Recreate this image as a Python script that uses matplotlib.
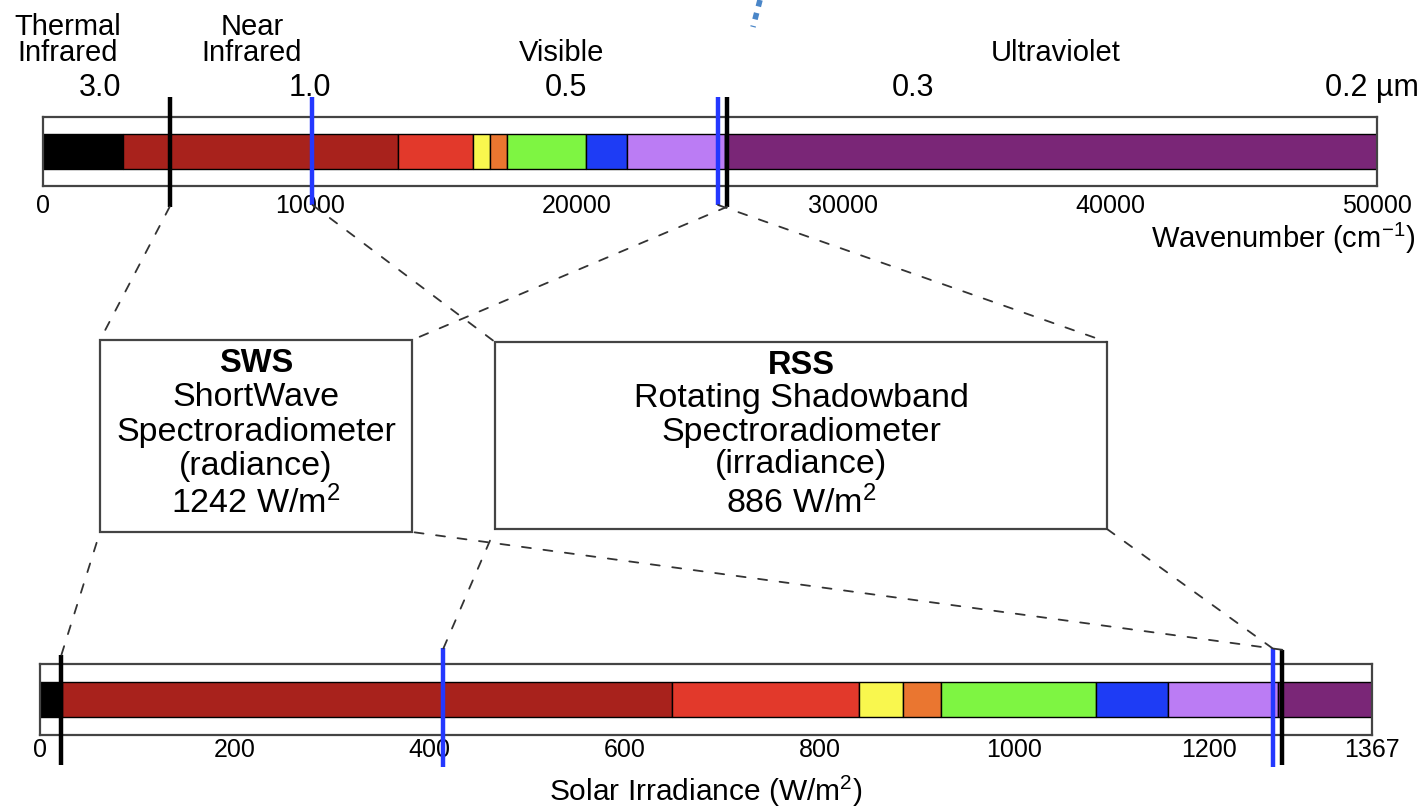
import matplotlib
matplotlib.use('Agg')
import matplotlib.pyplot as plt
import numpy as np
from matplotlib.patches import Rectangle, ConnectionPatch

plt.rcParams['font.family'] = ['Liberation Sans', 'DejaVu Sans']
plt.rcParams['mathtext.fontset'] = 'custom'
plt.rcParams['mathtext.rm'] = 'Liberation Sans'
plt.rcParams['mathtext.it'] = 'Liberation Sans:italic'
plt.rcParams['mathtext.bf'] = 'Liberation Sans:bold'

# ---------------- data ----------------
band_colors = ['#000000', '#a8221c', '#e2392b', '#f9f74e', '#ea7630',
               '#7ef542', '#1e3cf5', '#bb7cf4', '#7a2677']
wn_edges = [0, 3000, 13300, 16100, 16750, 17400, 20350, 21900, 25550, 50000]
irr_edges = [0, 23, 649, 841, 886, 925, 1084, 1158, 1271, 1367]
wn_ticks = [0, 10000, 20000, 30000, 40000, 50000]
irr_ticks = [0, 200, 400, 600, 800, 1000, 1200, 1367]
wl_labels = ['3.0', '1.0', '0.5', '0.3', '0.2 µm']
wl_pos = [2150, 10000, 19600, 32600, 49800]
region_labels = ['Thermal\nInfrared', 'Near\nInfrared', 'Visible', 'Ultraviolet']
region_pos = [940, 7830, 19450, 37970]
sws_wn = [4750, 25650]      # black markers (wavenumber)
rss_wn = [10100, 25300]     # blue markers (wavenumber)
sws_irr = [22, 1275]        # black markers (irradiance)
rss_irr = [414, 1265]       # blue markers (irradiance)
sws_lines = ['ShortWave', 'Spectroradiometer', '(radiance)', '1242 W/m$^2$']
rss_lines = ['Rotating Shadowband', 'Spectroradiometer', '(irradiance)', '886 W/m$^2$']

W, H = 1418, 807
fig = plt.figure(figsize=(W / 100, H / 100), dpi=100)

BLUE = '#2438ff'
EDGE = '#444444'

def px_axes(x0, x1, y0, y1):
    return fig.add_axes([x0 / W, 1 - y1 / H, (x1 - x0) / W, (y1 - y0) / H])

# ---------------- top bar ----------------
ax_top = px_axes(43, 1377, 117, 186)
ax_top.set_xlim(0, 50000)
ax_top.set_ylim(0, 1)
ax_top.barh(0.5, np.diff(wn_edges), left=wn_edges[:-1], height=0.5,
            color=band_colors, edgecolor='black', linewidth=1)
for s in ax_top.spines.values():
    s.set_color(EDGE)
    s.set_linewidth(1.6)
ax_top.set_yticks([])
ax_top.set_xticks(wn_ticks)
ax_top.set_xticklabels([str(t) for t in wn_ticks])
ax_top.tick_params(axis='x', length=0, pad=6, labelsize=18)
for x in rss_wn:
    ax_top.plot([x, x], [-0.275, 1.29], color=BLUE, lw=3.2, clip_on=False,
                solid_capstyle='butt', zorder=5)
for x in sws_wn:
    ax_top.plot([x, x], [-0.3, 1.29], color='black', lw=3.2, clip_on=False,
                solid_capstyle='butt', zorder=5)
for lab, x in zip(wl_labels, wl_pos):
    ax_top.text(x, 1.42, lab, ha='center', va='center', fontsize=22)
for lab, x in zip(region_labels, region_pos):
    ax_top.text(x, 1.72, lab, ha='center', va='bottom', fontsize=21,
                linespacing=0.92)
fig.text(1415 / W, 1 - 238 / H, 'Wavenumber (cm$^{-1}$)', ha='right',
         va='center', fontsize=21)

# ---------------- bottom bar ----------------
ax_bot = px_axes(40, 1372, 664, 735)
ax_bot.set_xlim(0, 1367)
ax_bot.set_ylim(0, 1)
ax_bot.barh(0.5, np.diff(irr_edges), left=irr_edges[:-1], height=0.5,
            color=band_colors, edgecolor='black', linewidth=1)
for s in ax_bot.spines.values():
    s.set_color(EDGE)
    s.set_linewidth(1.6)
ax_bot.set_yticks([])
ax_bot.set_xticks(irr_ticks)
ax_bot.set_xticklabels([str(t) for t in irr_ticks])
ax_bot.tick_params(axis='x', length=0, pad=2, labelsize=18)
ax_bot.set_xlabel('Solar Irradiance (W/m$^2$)', fontsize=21.5, labelpad=9)
for x in rss_irr:
    ax_bot.plot([x, x], [-0.45, 1.22], color=BLUE, lw=3.2, clip_on=False,
                solid_capstyle='butt', zorder=5)
for x, top in zip(sws_irr, [1.13, 1.2]):
    ax_bot.plot([x, x], [-0.42, top], color='black', lw=3.2, clip_on=False,
                solid_capstyle='butt', zorder=5)

# ---------------- overlay: boxes and connectors ----------------
ax_ov = fig.add_axes([0, 0, 1, 1], zorder=-1)
ax_ov.set_xlim(0, W)
ax_ov.set_ylim(H, 0)
ax_ov.axis('off')

sws_box = (100, 340, 412, 532)
rss_box = (495, 342, 1107, 529)
for (x0, y0, x1, y1) in (sws_box, rss_box):
    ax_ov.add_patch(Rectangle((x0, y0), x1 - x0, y1 - y0, fill=False,
                              edgecolor=EDGE, lw=1.6))

sws_cx = (sws_box[0] + sws_box[2]) / 2
rss_cx = (rss_box[0] + rss_box[2]) / 2
ax_ov.text(sws_cx, 363, 'SWS', ha='center', va='center', fontsize=23.5,
           fontweight='bold')
for txt, y in zip(sws_lines, [397, 432, 466, 503]):
    ax_ov.text(sws_cx, y, txt, ha='center', va='center', fontsize=24.5)
ax_ov.text(rss_cx, 366, 'RSS', ha='center', va='center', fontsize=23.5,
           fontweight='bold')
for txt, y in zip(rss_lines, [398, 432, 465, 503]):
    ax_ov.text(rss_cx, y, txt, ha='center', va='center', fontsize=24.5)

dash = (0, (5, 7))
def connect(xyA, axA, xyB):
    cp = ConnectionPatch(xyA=xyA, coordsA=axA.transData, xyB=xyB,
                         coordsB=ax_ov.transData, linestyle=dash,
                         color='#333333', lw=1.3)
    fig.add_artist(cp)

# top bar -> boxes
connect((sws_wn[0], -0.3), ax_top, (sws_box[0], sws_box[1]))
connect((sws_wn[1], -0.3), ax_top, (sws_box[2], sws_box[1]))
connect((rss_wn[0], -0.275), ax_top, (rss_box[0], rss_box[1]))
connect((rss_wn[1], -0.275), ax_top, (rss_box[2], rss_box[1]))
# boxes -> bottom bar
connect((sws_irr[0], 1.13), ax_bot, (sws_box[0], sws_box[3]))
connect((sws_irr[1], 1.2), ax_bot, (sws_box[2], sws_box[3]))
connect((rss_irr[0], 1.22), ax_bot, (rss_box[0], rss_box[3]))
connect((rss_irr[1], 1.22), ax_bot, (rss_box[2], rss_box[3]))

# small dotted pointer fragment at the top edge
ax_ov.plot([760, 753], [0, 27], color='#4a86c8', lw=4, linestyle=(0, (1.2, 1.2)))

fig.savefig('out.png', dpi=100)
